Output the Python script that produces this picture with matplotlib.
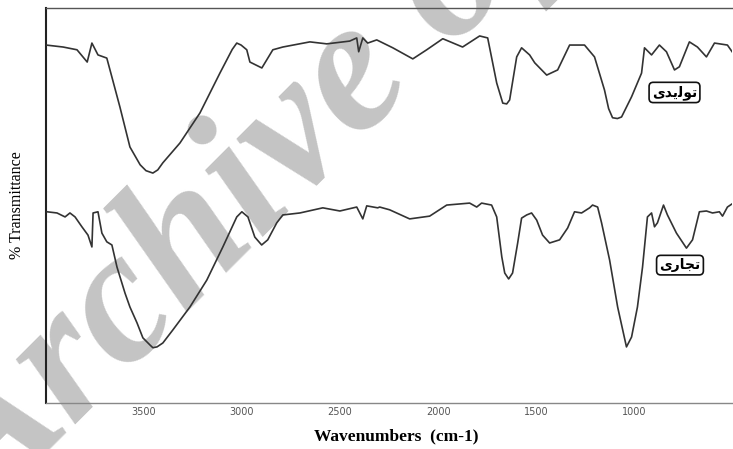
import numpy as np
import matplotlib.pyplot as plt
from matplotlib import font_manager

# upper trace (تولیدی)
wn_top = [4000, 3913, 3842, 3790, 3766, 3735, 3690, 3664, 3623, 3572, 3520, 3490,
          3455, 3430, 3404, 3317, 3215, 3113, 3050, 3027, 3005, 2976, 2960, 2899,
          2843, 2792, 2654, 2568, 2451, 2415, 2405, 2384, 2359, 2313, 2231, 2129,
          2058, 1976, 1875, 1788, 1747, 1701, 1670, 1650, 1635, 1599, 1574, 1533,
          1507, 1446, 1390, 1329, 1253, 1202, 1151, 1130, 1110, 1085, 1064, 1013,
          962, 947, 911, 871, 835, 794, 769, 718, 677, 631, 590, 524, 500]
t_top = [90.6, 90.1, 89.4, 86.3, 91.1, 88.1, 87.3, 82.5, 74.9, 64.8, 60.3, 58.8,
         58.2, 59.0, 60.8, 65.8, 73.4, 83.5, 89.5, 91.1, 90.6, 89.4, 86.3, 84.8,
         89.4, 90.1, 91.4, 90.9, 91.6, 92.4, 88.9, 92.4, 91.1, 91.9, 89.9, 87.1,
         89.4, 92.2, 90.1, 92.9, 92.4, 81.0, 75.9, 75.7, 76.7, 87.6, 89.9, 88.1,
         86.1, 83.0, 84.3, 90.6, 90.6, 87.6, 79.2, 74.5, 72.2, 72.0, 72.4, 77.5,
         83.5, 89.9, 88.1, 90.6, 88.9, 84.3, 85.1, 91.4, 90.1, 87.6, 91.1, 90.6, 88.9]

# lower trace (تجاری)
wn_bot = [3995, 3944, 3903, 3878, 3852, 3817, 3786, 3766, 3760, 3735, 3715, 3690,
          3664, 3638, 3597, 3572, 3536, 3506, 3470, 3455, 3434, 3404, 3353, 3266,
          3180, 3098, 3027, 3001, 2970, 2935, 2900, 2869, 2823, 2792, 2705, 2588,
          2501, 2415, 2384, 2364, 2308, 2298, 2247, 2145, 2043, 1956, 1839, 1803,
          1778, 1727, 1701, 1675, 1660, 1640, 1620, 1594, 1574, 1548, 1523, 1497,
          1467, 1431, 1380, 1339, 1304, 1268, 1227, 1212, 1186, 1166, 1125, 1084,
          1039, 1013, 983, 957, 932, 911, 896, 881, 850, 830, 784, 733, 702, 667,
          631, 600, 565, 549, 524, 500]
t_bot = [48.4, 48.1, 47.1, 48.1, 47.1, 44.6, 42.5, 39.5, 48.1, 48.4, 43.0, 40.8,
         40.0, 34.4, 27.8, 24.3, 20.3, 16.5, 14.7, 14.0, 14.2, 15.2, 18.5, 24.3,
         31.1, 39.5, 47.1, 48.4, 47.1, 42.0, 40.0, 41.3, 45.6, 47.6, 48.1, 49.4,
         48.6, 49.6, 46.6, 49.9, 49.4, 49.6, 48.9, 46.6, 47.3, 50.1, 50.6, 49.6,
         50.6, 50.1, 47.1, 37.0, 32.9, 31.4, 32.9, 40.5, 46.8, 47.6, 48.1, 46.3,
         42.5, 40.5, 41.3, 44.3, 48.4, 48.1, 49.4, 50.1, 49.6, 45.6, 36.2, 24.3,
         14.2, 16.7, 24.3, 34.4, 47.1, 48.1, 44.6, 45.6, 50.1, 47.6, 43.0, 39.2,
         41.3, 48.4, 48.6, 48.1, 48.4, 47.3, 49.6, 50.4]

xticks = [3500, 3000, 2500, 2000, 1500, 1000]

# pre-shaped Persian labels (presentation forms, visual order)
label_top = "\uFBFC\uFEAA\uFBFE\uFEDF\uFEEE\uFE97"   # تولیدی
label_bot = "\uFBFC\uFEAD\uFE8E\uFEA0\uFE97"         # تجاری

fig = plt.figure(figsize=(7.33, 4.49), dpi=100)
ax = fig.add_axes([0.0628, 0.1024, 0.936, 0.880])

ax.plot(wn_top, t_top, color='#333333', lw=1.2, zorder=3)
ax.plot(wn_bot, t_bot, color='#333333', lw=1.2, zorder=3)

ax.set_xlim(4000, 500)
ax.set_ylim(0, 100)
ax.set_xticks(xticks)
ax.set_xticklabels([str(v) for v in xticks])
ax.set_yticks([])
ax.tick_params(axis='x', length=0, pad=3, labelsize=7, labelcolor='#555555')
for lab in ax.get_xticklabels():
    lab.set_family('DejaVu Sans')

ax.spines['right'].set_visible(False)
ax.spines['left'].set_linewidth(1.5)
ax.spines['left'].set_color('#222222')
ax.spines['top'].set_linewidth(1.0)
ax.spines['top'].set_color('#555555')
ax.spines['bottom'].set_linewidth(1.0)
ax.spines['bottom'].set_color('#888888')

ax.set_xlabel("Wavenumbers  (cm-1)", family='Liberation Serif', fontweight='bold',
              fontsize=12.5, labelpad=9)
ax.xaxis.set_label_coords(0.51, -0.065)
ax.set_ylabel("% Transmittance", family='Liberation Serif', fontsize=11.5, labelpad=15)

box = dict(boxstyle='round,pad=0.2,rounding_size=0.3', fc='white', ec='#111111', lw=1.2)
ax.text(794, 78.6, label_top, family='DejaVu Sans', fontweight='bold', fontsize=10,
        ha='center', va='center', bbox=box, zorder=4)
ax.text(766, 34.9, label_bot, family='DejaVu Sans', fontweight='bold', fontsize=10,
        ha='center', va='center', bbox=box, zorder=4)

# watermark
wm_font = font_manager.FontProperties(family='Liberation Serif', weight='bold',
                                      style='italic', size=137)
fig.text(-0.018, -0.165, "Archive of SID", fontproperties=wm_font,
         color='#c4c4c4', rotation=45, rotation_mode='anchor',
         ha='left', va='baseline', zorder=1)
ax.set_zorder(2)
ax.patch.set_alpha(0)

fig.savefig('out.png', dpi=100)
